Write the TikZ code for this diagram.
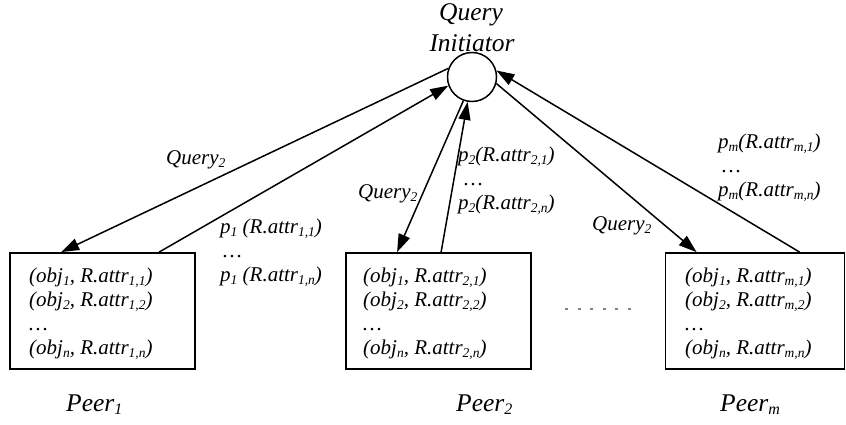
\documentclass[tikz,border=0pt]{standalone}
\usepackage{fontspec}
\setmainfont{Liberation Serif}
\usetikzlibrary{arrows.meta,calc}

% lowered small index, kept in the current (italic) shape
\newcommand\lo[1]{\raisebox{-3pt}{\fontsize{13.5}{13.5}\selectfont #1}}
\newcommand\loB[1]{\raisebox{-3.5pt}{\fontsize{16}{16}\selectfont #1}}

\begin{document}
\begin{tikzpicture}[x=1pt,y=-1pt,
  every node/.style={inner sep=0pt},
  txt/.style={font=\fontsize{21}{24}\selectfont\itshape, align=left},
  lbl/.style={font=\fontsize{21}{24}\selectfont\itshape, align=left},
  big/.style={font=\fontsize{25.5}{31}\selectfont\itshape},
  peerbox/.style={draw, line width=1.8pt, minimum height=116pt},
  link/.style={line width=1.5pt, -{Triangle[length=18pt,width=12pt]}}]

\useasboundingbox (0,0) rectangle (846,424);

% query initiator
\node[draw, circle, line width=1.5pt, minimum size=49pt] (qi) at (472,77) {};
\node[big, anchor=base] (qt1) at (471,20) {Query};
\node[big, anchor=base] (qt2) at (472,51) {Initiator};

% peer boxes
\node[peerbox, minimum width=185pt] (b1) at (102.5,311) {};
\node[peerbox, minimum width=185pt] (b2) at (438.5,311) {};
\node[peerbox, minimum width=179pt] (b3) at (755,311) {};

% stored (object, attribute) pairs
\node[txt, anchor=north west] (c1) at (29,268)
  {(obj\lo{1}, R.attr\lo{1,1})\\(obj\lo{2}, R.attr\lo{1,2})\\…\\(obj\lo{n}, R.attr\lo{1,n})};
\node[txt, anchor=north west] (c2) at (363,268)
  {(obj\lo{1}, R.attr\lo{2,1})\\(obj\lo{2}, R.attr\lo{2,2})\\…\\(obj\lo{n}, R.attr\lo{2,n})};
\node[txt, anchor=north west] (c3) at (685,268)
  {(obj\lo{1}, R.attr\lo{m,1})\\(obj\lo{2}, R.attr\lo{m,2})\\…\\(obj\lo{n}, R.attr\lo{m,n})};

% peer names
\node[big, anchor=base west] (n1) at (66,411) {Peer\loB{1}};
\node[big, anchor=base west] (n2) at (456,411) {Peer\loB{2}};
\node[big, anchor=base west] (n3) at (720,411) {Peer\loB{m}};

% ends of the connectors on the box tops
\coordinate (q1) at ($(b1.north west)+(52,0)$);
\coordinate (r1) at ($(b1.north west)+(150,0)$);
\coordinate (q2) at ($(b2.north west)+(52,0)$);
\coordinate (r2) at ($(b2.north west)+(96,0)$);
\coordinate (q3) at ($(b3.north west)+(32,0)$);
\coordinate (r3) at ($(b3.north west)+(135,0)$);

% queries out, results back
\draw[link] (qi.160) -- (q1);
\draw[link] (r1) -- (qi.200);
\draw[link] (qi.250) -- (q2);
\draw[link] (r2) -- (qi.260);
\draw[link] (qi.345) -- (q3);
\draw[link] (r3) -- (qi.15);

% connector labels
\node[lbl, anchor=base west] (l1) at (166,164) {Query\lo{2}};
\node[lbl, anchor=base west] (l2) at (358,198) {Query\lo{2}};
\node[lbl, anchor=base west] (l3) at (592,230) {Query\lo{2}};
\node[lbl, anchor=north west] (a1) at (220,219)
  {p\lo{1} (R.attr\lo{1,1})\\\hspace*{3pt}…\\p\lo{1} (R.attr\lo{1,n})};
\node[lbl, anchor=north west] (a2) at (458,147)
  {p\lo{2}(R.attr\lo{2,1})\\\hspace*{6pt}…\\p\lo{2}(R.attr\lo{2,n})};
\node[lbl, anchor=north west] (a3) at (718,134)
  {p\lo{m}(R.attr\lo{m,1})\\\hspace*{4pt}…\\p\lo{m}(R.attr\lo{m,n})};

% more peers in between
\coordinate (g1) at (565,309);
\coordinate (g2) at (636,309);
\draw[gray, line width=1.2pt, dash pattern=on 3pt off 9.6pt] (g1) -- (g2);
\end{tikzpicture}
\end{document}
